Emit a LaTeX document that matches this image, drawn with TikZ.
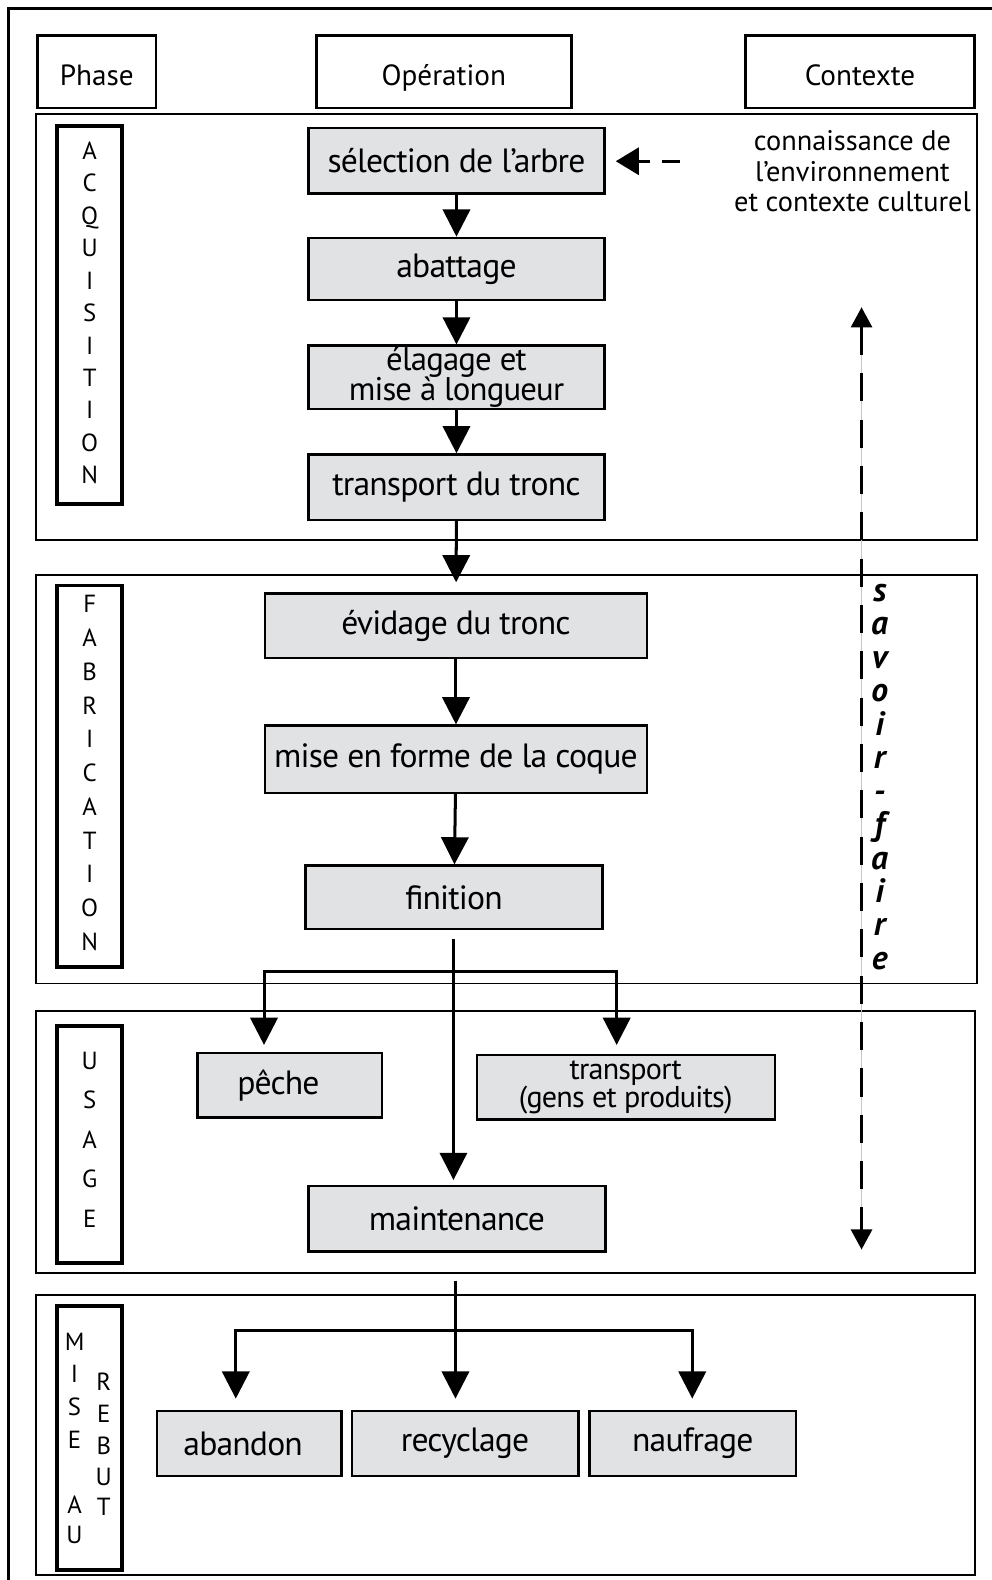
\documentclass[tikz,border=0pt]{standalone}
\usepackage{fontspec}
\setmainfont{PT Sans}
\newfontfamily\opfont[LetterSpace=-2.5]{PT Sans}
\usetikzlibrary{arrows.meta}
\definecolor{boxgray}{RGB}{225,226,228}
\begin{document}
\begin{tikzpicture}[x=0.02cm,y=-0.02cm,
  opbox/.style={draw=black, line width=1.3pt, fill=boxgray, inner sep=0pt, align=center, font=\opfont\fontsize{19}{15.5}\selectfont},
  panel/.style={draw=black, line width=1.1pt},
  lblbox/.style={draw=black, line width=2.2pt, minimum width=1.28cm, inner sep=0pt},
  hdr/.style={draw=black, line width=1.4pt, inner sep=0pt, minimum height=1.44cm, text height=16pt, text depth=0pt, font=\fontsize{16.5}{19}\selectfont},
  conn/.style={line width=1.7pt, -{Triangle[width=0.54cm,length=0.54cm]}},
  plainline/.style={line width=1.7pt},
  letter/.style={font=\fontsize{14}{16}\selectfont, inner sep=0pt, text height=1.4ex, text depth=0pt},
  sfletter/.style={font=\fontsize{19}{20}\selectfont\bfseries\itshape, inner sep=0pt, text height=1.1ex, text depth=0pt},
  ctx/.style={align=center, inner sep=0pt, font=\fontsize{16}{17.3}\selectfont},
]
\useasboundingbox (0,0) rectangle (984,1568);
% outer frame (top and left)
\draw[line width=1.7pt] (984,8) -- (8,8) -- (8,1568);

% header boxes
\node[hdr, minimum width=2.36cm] (hphase) at (96,71) {Phase};
\node[hdr, minimum width=5.06cm] (hop) at (440.5,71) {Opération};
\node[hdr, minimum width=4.54cm] (hctx) at (853.5,71) {Contexte};

% phase panels
\draw[panel] (36,113) rectangle (970,536);
\draw[panel] (36,571) rectangle (970,976);
\draw[panel] (36,1003) rectangle (968,1263);
\draw[panel] (36,1285) rectangle (968,1563);

% phase label boxes
\node[lblbox, minimum height=7.50cm] (lacq) at (89,312.5) {};
\node[lblbox, minimum height=7.58cm] (lfab) at (89,770.5) {};
\node[lblbox, minimum height=4.70cm] (lusa) at (89,1135.5) {};
\node[lblbox, minimum height=5.24cm] (lreb) at (89,1427) {};

\foreach \l [count=\i] in {A,C,Q,U,I,S,I,T,I,O,N}
  \node[letter] (acq\i) at (89,{152+(\i-1)*32.2}) {\l};
\foreach \l [count=\i] in {F,A,B,R,I,C,A,T,I,O,N}
  \node[letter] (fab\i) at (89,{602+(\i-1)*33.5}) {\l};
\foreach \l [count=\i] in {U,S,A,G,E}
  \node[letter] (usa\i) at (89,{1055+(\i-1)*39.25}) {\l};
\foreach \l/\y [count=\i] in {M/1334,I/1366,S/1399,E/1431,A/1496,U/1526}
  \node[letter] (mis\i) at (74,\y) {\l};
\foreach \l/\y [count=\i] in {R/1374,E/1406,B/1437,U/1468,T/1498}
  \node[letter] (reb\i) at (103,\y) {\l};

% operation boxes
\node[opbox, minimum width=5.88cm, minimum height=1.30cm] (sel) at (453,159.5) {sélection de l’arbre};
\node[opbox, minimum width=5.88cm, minimum height=1.24cm] (aba) at (453,267) {abattage};
\node[opbox, minimum width=5.88cm, minimum height=1.26cm, font=\opfont\fontsize{18.5}{15.5}\selectfont] (ela) at (453,374.5) {élagage et\\[-1.5pt]mise à longueur};
\node[opbox, minimum width=5.88cm, minimum height=1.30cm] (tra) at (453,483.5) {transport du tronc};
\node[opbox, minimum width=7.58cm, minimum height=1.28cm] (evi) at (452.5,621) {évidage du tronc};
\node[opbox, minimum width=7.58cm, minimum height=1.34cm] (mef) at (452.5,753.5) {mise en forme de la coque};
\node[opbox, minimum width=5.90cm, minimum height=1.26cm] (fin) at (450.5,890.5) {finition};
\node[opbox, minimum width=3.66cm, minimum height=1.28cm] (pec) at (287.5,1077) {pêche\hspace*{0.45cm}};
\node[opbox, minimum width=5.92cm, minimum height=1.28cm, font=\opfont\fontsize{17}{15.5}\selectfont] (trp) at (621,1079) {transport\\[-0.5pt](gens et produits)};
\node[opbox, minimum width=5.90cm, minimum height=1.30cm] (mai) at (453.5,1209.5) {maintenance};
\node[opbox, minimum width=3.66cm, minimum height=1.30cm] (abd) at (247.5,1432.5) {abandon\hspace*{0.25cm}};
\node[opbox, minimum width=4.50cm, minimum height=1.30cm] (rec) at (461.5,1432.5) {recyclage};
\node[opbox, minimum width=4.10cm, minimum height=1.30cm] (nau) at (687.5,1432.5) {naufrage};

% context text
\node[ctx] (ctxt) at (846,170) {connaissance de\\l’environnement\\et contexte culturel};

% acquisition chain
\draw[conn] (sel) -- (aba);
\draw[conn] (aba) -- (ela);
\draw[conn] (ela) -- (tra);
\draw[conn, shorten >=0.2cm] (tra) -- (evi);
\draw[conn] (evi) -- (mef);
\draw[conn] (mef) -- (fin);

% usage branching
\coordinate (fs) at (450,932);
\coordinate (fb) at (450,964);
\coordinate (pecTip) at (262,1037);
\coordinate (trpTip) at (612,1037);
\coordinate (maiTip) at (450,1171);
\draw[plainline] (fs) -- (fb);
\draw[conn] (fb) -| (pecTip);
\draw[conn] (fb) -| (trpTip);
\draw[conn] (fb) -- (maiTip);

% discard branching
\coordinate (ms) at (452,1271);
\coordinate (mb) at (452,1320);
\coordinate (abdTip) at (234,1388);
\coordinate (recTip) at (452,1388);
\coordinate (nauTip) at (687,1388);
\draw[plainline] (ms) -- (mb);
\draw[conn] (mb) -| (abdTip);
\draw[conn] (mb) -- (recTip);
\draw[conn] (mb) -| (nauTip);

% context dashed arrow
\coordinate (cs) at (675,160);
\draw[line width=1.7pt, dash pattern=on 0.36cm off 0.24cm, -{Triangle[width=0.54cm,length=0.46cm]}, shorten >=0.2cm] (cs) -- (sel.east |- cs);

% savoir-faire
\coordinate (sfTop) at (855,305);
\coordinate (sfBot) at (855,1240);
\draw[gray!45, line width=0.4pt] (sfTop) -- (sfBot);
\draw[line width=1.5pt, dash pattern=on 0.56cm off 0.36cm, {Triangle[width=0.42cm,length=0.40cm]}-{Triangle[width=0.42cm,length=0.40cm]}] (sfTop) -- (sfBot);
\foreach \l [count=\i] in {s,a,v,o,i,r,-,f,a,i,r,e}
  \node[sfletter] (sf\i) at (873,{592+(\i-1)*33.2}) {\l};
\end{tikzpicture}
\end{document}
